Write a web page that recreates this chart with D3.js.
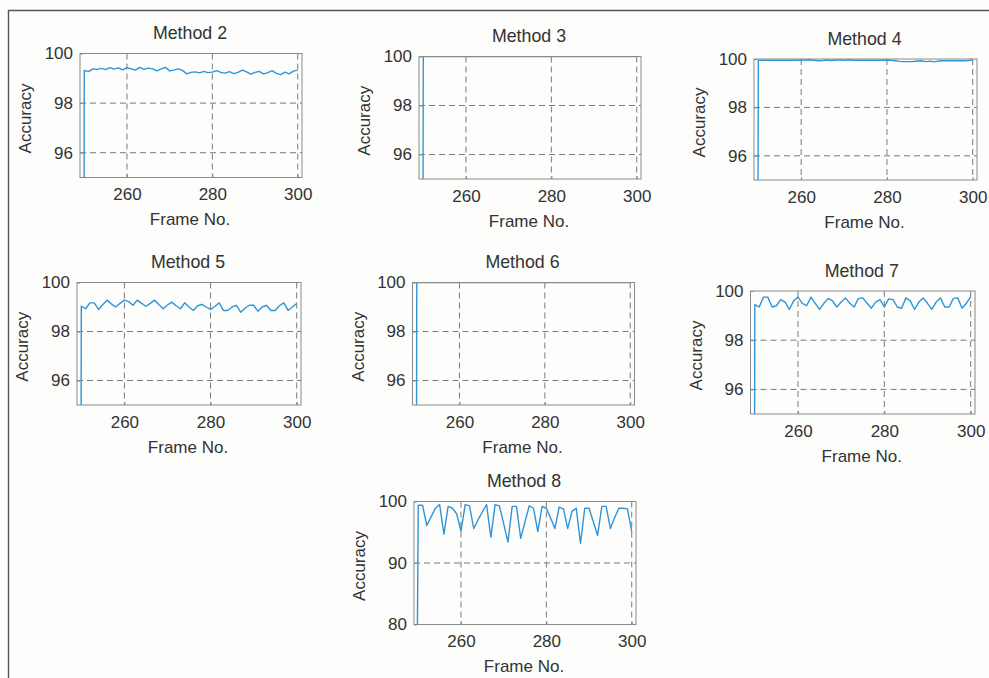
<!DOCTYPE html>
<html><head><meta charset="utf-8">
<script src="https://cdn.jsdelivr.net/npm/d3@7"></script>
<style>
html,body{margin:0;padding:0;background:#fdfdfb;}
svg{display:block;font-family:"Liberation Sans",Arial,Helvetica,sans-serif;}
</style></head><body>
<svg id="chart" width="989" height="678"></svg>
<script>
// ---------------- data ----------------
const titles = ["Method 2","Method 3","Method 4","Method 5","Method 6","Method 7","Method 8"];
const frames = [249,250,251,252,253,254,255,256,257,258,259,260,261,262,263,264,265,266,267,268,269,270,
  271,272,273,274,275,276,277,278,279,280,281,282,283,284,285,286,287,288,289,290,
  291,292,293,294,295,296,297,298,299,300];
const method2 = [0,99.32,99.27,99.38,99.36,99.40,99.35,99.43,99.37,99.42,99.34,99.43,99.38,99.33,99.44,99.36,99.41,99.38,99.30,99.38,99.44,
  99.30,99.33,99.38,99.32,99.18,99.24,99.26,99.22,99.28,99.23,99.25,99.31,99.24,99.21,99.27,99.19,99.24,99.33,99.26,99.17,
  99.24,99.28,99.18,99.23,99.31,99.20,99.15,99.25,99.18,99.29,99.33];
const method3 = [0,100,100,100,100,100,100,100,100,100,100,100,100,100,100,100,100,100,100,100,100,
  100,100,100,100,100,100,100,100,100,100,100,100,100,100,100,100,100,100,100,100,
  100,100,100,100,100,100,100,100,100,100,100];
const method4 = [0,99.95,99.95,99.95,99.95,99.95,99.95,99.95,99.95,99.95,99.95,99.96,99.96,99.97,99.95,99.93,99.94,99.96,99.94,99.96,99.96,
  99.95,99.97,99.95,99.95,99.95,99.95,99.95,99.95,99.95,99.95,99.96,99.95,99.93,99.90,99.89,99.89,99.89,99.92,99.93,99.89,
  99.91,99.88,99.92,99.93,99.93,99.93,99.93,99.93,99.93,99.94,99.97];
const method5 = [0,99.03,98.93,99.17,99.17,98.90,99.10,99.28,99.12,99.00,99.15,99.28,99.22,99.07,99.28,99.15,99.03,99.15,99.28,99.10,98.93,
  99.08,99.20,99.05,98.93,99.17,99.00,98.86,99.05,99.11,99.00,98.90,99.02,99.17,98.86,98.86,99.00,99.07,98.79,98.95,99.07,
  99.07,98.83,99.00,99.07,98.86,98.86,99.05,99.17,98.86,99.00,99.14];
const method6 = [0,100,100,100,100,100,100,100,100,100,100,100,100,100,100,100,100,100,100,100,100,
  100,100,100,100,100,100,100,100,100,100,100,100,100,100,100,100,100,100,100,100,
  100,100,100,100,100,100,100,100,100,100,100];
const method7 = [0,99.45,99.35,99.75,99.75,99.35,99.40,99.65,99.55,99.25,99.60,99.75,99.50,99.40,99.75,99.50,99.25,99.50,99.70,99.60,99.35,
  99.55,99.72,99.50,99.35,99.70,99.72,99.50,99.30,99.55,99.65,99.35,99.68,99.65,99.35,99.30,99.72,99.60,99.25,99.55,99.72,
  99.50,99.25,99.55,99.72,99.35,99.35,99.70,99.72,99.30,99.50,99.77];
const method8 = [0,99.4,99.4,96.1,97.5,98.9,99.5,94.7,99.2,98.9,98.0,95.2,99.5,99.3,95.6,97.0,98.3,99.5,94.2,99.5,99.3,
  96.4,93.4,99.2,99.2,94.0,96.7,99.3,98.9,95.1,99.2,98.9,97.3,95.6,99.1,98.8,95.6,98.4,98.9,93.2,98.9,
  98.9,96.7,94.5,99.2,99.2,95.6,97.4,98.9,98.9,98.8,95.1];
const seriesList = [method2, method3, method4, method5, method6, method7, method8];
const xDomain = [249, 301];
const xTicks = [260, 280, 300];
const yDomainNarrow = [95, 100];
const yTicksNarrow = [96, 98, 100];
const yDomainWide = [80, 100];
const yTicksWide = [80, 90, 100];
const xLabel = "Frame No.";
const yLabel = "Accuracy";

// ---------------- layout ----------------
const layout = [
  {x0:80,    x1:302,   y0:53.5,  y1:177.5, wide:false},
  {x0:419,   x1:641,   y0:56.5,  y1:179,   wide:false},
  {x0:754,   x1:977,   y0:59,    y1:180,   wide:false},
  {x0:77,    x1:301,   y0:282.5, y1:405,   wide:false},
  {x0:412.5, x1:634.5, y0:282.5, y1:405,   wide:false},
  {x0:750.5, x1:975,   y0:291,   y1:414,   wide:false},
  {x0:414,   x1:636,   y0:501.5, y1:624.5, wide:true}
];
const lineColor = "#2f95d8";
const gridColor = "#7a7a7a";
const boxColor = "#8a8a8a";
const textColor = "#333333";
const fontSize = 17;
const titleSize = 17.8;

const svg = d3.select("#chart");
svg.append("rect").attr("width",989).attr("height",678).attr("fill","#fdfdfb");
// scan frame border
svg.append("path").attr("d","M8.5,678 V10.5 H989").attr("fill","none")
  .attr("stroke","#555").attr("stroke-width",1.4);

layout.forEach((L, i) => {
  const x = d3.scaleLinear().domain(xDomain).range([L.x0, L.x1]);
  const y = d3.scaleLinear().domain(L.wide ? yDomainWide : yDomainNarrow).range([L.y1, L.y0]);
  const yt = L.wide ? yTicksWide : yTicksNarrow;
  const g = svg.append("g");

  // grid
  g.selectAll("line.gx").data(xTicks).enter().append("line")
    .attr("x1", d => x(d)).attr("x2", d => x(d)).attr("y1", L.y0).attr("y2", L.y1)
    .attr("stroke", gridColor).attr("stroke-width", 1).attr("stroke-dasharray", "6,4");
  g.selectAll("line.gy").data(yt.filter(v => y(v) > L.y0 + 1 && y(v) < L.y1 - 1)).enter().append("line")
    .attr("x1", L.x0).attr("x2", L.x1).attr("y1", d => y(d)).attr("y2", d => y(d))
    .attr("stroke", gridColor).attr("stroke-width", 1).attr("stroke-dasharray", "6,4");

  // clip + data line
  const cid = "clip" + i;
  svg.append("clipPath").attr("id", cid).append("rect")
    .attr("x", L.x0).attr("y", L.y0).attr("width", L.x1 - L.x0).attr("height", L.y1 - L.y0);
  const pts = frames.map((f, k) => [f, seriesList[i][k]]);
  g.append("path").datum(pts)
    .attr("clip-path", `url(#${cid})`)
    .attr("fill", "none").attr("stroke", lineColor).attr("stroke-width", 1.4)
    .attr("stroke-linejoin", "round")
    .attr("d", d3.line().x(d => x(d[0])).y(d => y(d[1])));

  // box
  g.append("rect").attr("x", L.x0).attr("y", L.y0)
    .attr("width", L.x1 - L.x0).attr("height", L.y1 - L.y0)
    .attr("fill", "none").attr("stroke", boxColor).attr("stroke-width", 1);

  // axes
  const ax = g.append("g").attr("transform", `translate(0,${L.y1})`)
    .call(d3.axisBottom(x).tickValues(xTicks).tickFormat(d3.format("d"))
      .tickSizeInner(-3).tickSizeOuter(0).tickPadding(10.5));
  const ay = g.append("g").attr("transform", `translate(${L.x0},0)`)
    .call(d3.axisLeft(y).tickValues(yt).tickFormat(d3.format("d"))
      .tickSizeInner(-3).tickSizeOuter(0).tickPadding(7));
  [ax, ay].forEach(a => {
    a.select(".domain").remove();
    a.selectAll(".tick line").attr("stroke", boxColor);
    a.selectAll(".tick text").attr("fill", textColor).style("font-size", fontSize + "px")
      .style("font-family", "'Liberation Sans',Arial,sans-serif");
  });

  // titles and labels
  const cx = (L.x0 + L.x1) / 2;
  g.append("text").attr("x", cx - 1).attr("y", L.y0 - 14.5).attr("text-anchor", "middle")
    .attr("fill", textColor).style("font-size", titleSize + "px").text(titles[i]);
  g.append("text").attr("x", cx - 1).attr("y", L.y1 + 47.5).attr("text-anchor", "middle")
    .attr("fill", textColor).style("font-size", fontSize + "px").text(xLabel);
  g.append("text")
    .attr("transform", `translate(${L.x0 - 49},${(L.y0 + L.y1) / 2 + 3}) rotate(-90)`)
    .attr("text-anchor", "middle").attr("fill", textColor)
    .style("font-size", fontSize + "px").text(yLabel);
});
</script>
</body></html>
